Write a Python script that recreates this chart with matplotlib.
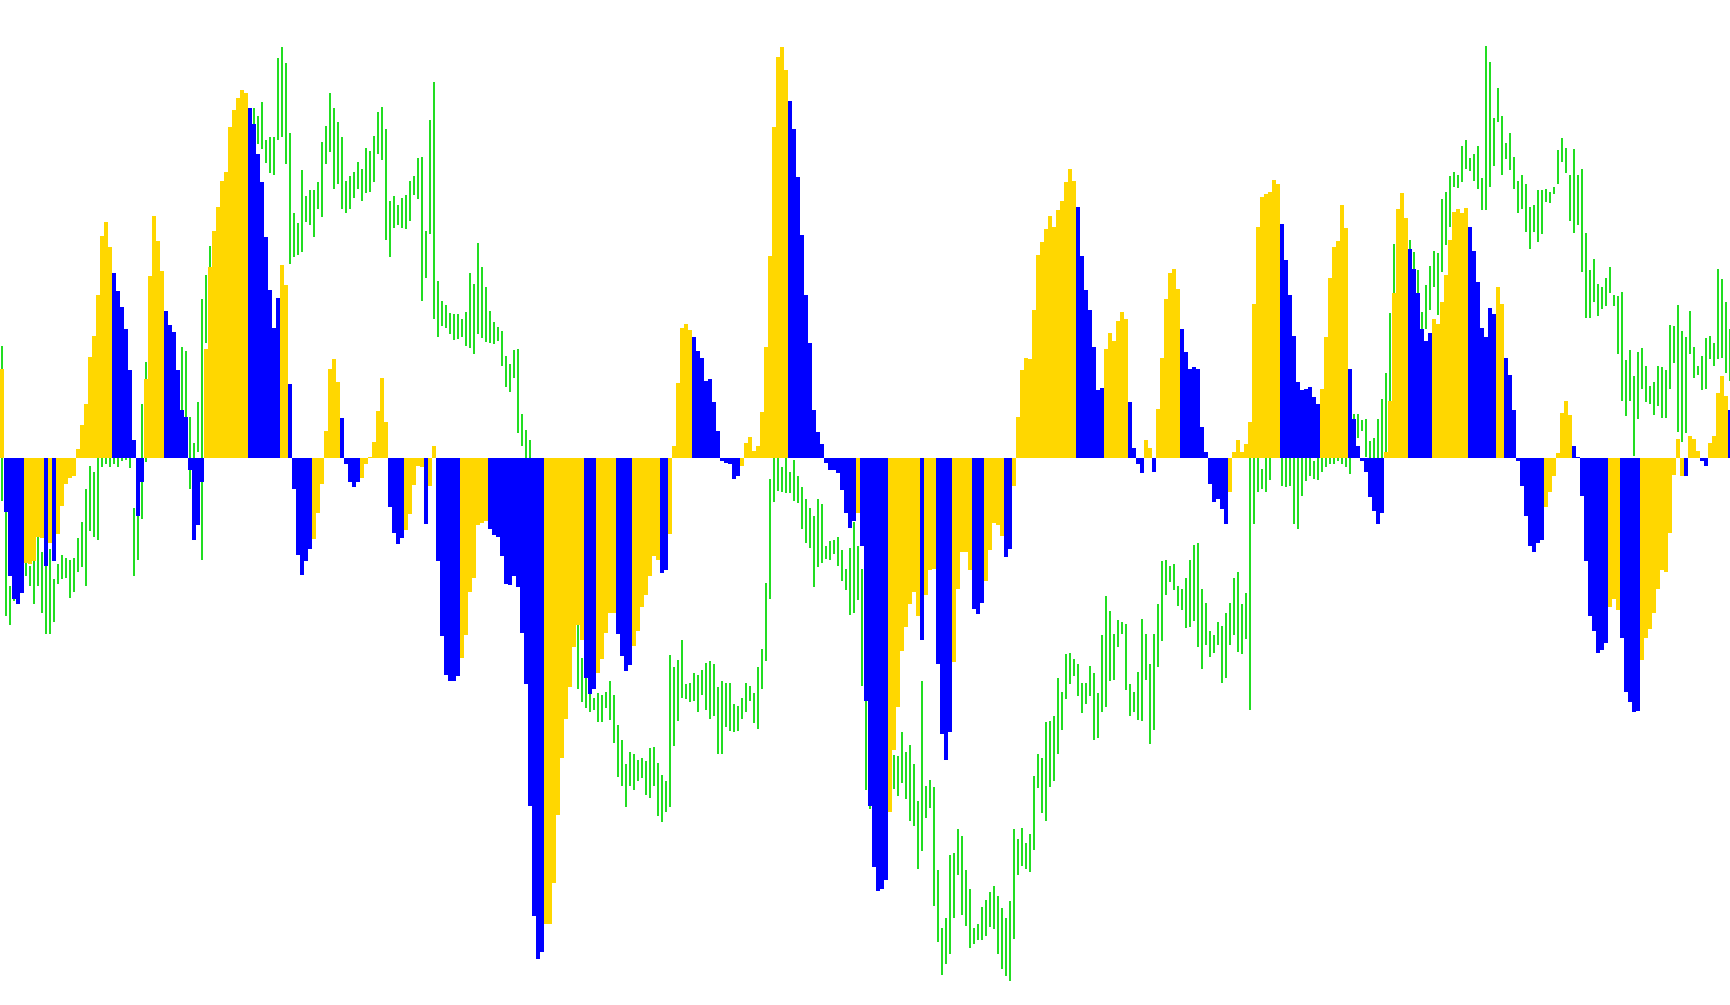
import numpy as np
import matplotlib
matplotlib.use("Agg")
import matplotlib.pyplot as plt

# Oscillator histogram values (arbitrary units, zero line = 0)
osc = [
    147, -88, -195, -232, -240, -222, -172, -175, -170, -130,
    -132, -178, -140, -170, -125, -78, -42, -32, -30, 15,
    55, 89, 167, 202, 270, 366, 389, 348, 306, 276,
    249, 214, 146, 30, -95, -40, 130, 300, 400, 358,
    309, 243, 220, 208, 146, 80, 68, -20, -135, -110,
    -40, 180, 315, 375, 414, 458, 472, 546, 575, 595,
    608, 602, 578, 552, 502, 456, 365, 278, 215, 264,
    319, 285, 123, -50, -160, -193, -170, -150, -134, -90,
    -42, 45, 147, 164, 125, 66, -9, -40, -48, -39,
    -33, -10, 2, 27, 78, 132, 60, -81, -124, -141,
    -132, -118, -92, -44, -12, -15, -108, -45, 20, -170,
    -294, -358, -368, -367, -360, -330, -292, -220, -198, -110,
    -106, -104, -116, -127, -130, -162, -207, -209, -195, -212,
    -288, -372, -573, -755, -826, -815, -769, -769, -700, -588,
    -494, -430, -378, -312, -275, -300, -362, -389, -381, -355,
    -332, -289, -256, -256, -290, -326, -351, -341, -310, -285,
    -245, -225, -194, -162, -168, -190, -185, -125, 20, 124,
    215, 222, 212, 200, 177, 165, 128, 131, 92, 45,
    -5, -8, -10, -35, -30, -12, 25, 35, 12, 20,
    77, 183, 334, 546, 662, 678, 640, 589, 543, 464,
    368, 270, 190, 80, 44, 24, -8, -19, -20, -24,
    -52, -90, -115, -104, -90, -145, -400, -574, -675, -714,
    -710, -695, -584, -482, -411, -318, -278, -240, -220, -260,
    -300, -225, -184, -183, -340, -455, -498, -452, -336, -216,
    -154, -154, -185, -248, -257, -239, -203, -151, -106, -110,
    -129, -163, -150, -46, 68, 146, 165, 164, 244, 335,
    357, 378, 400, 382, 410, 424, 456, 477, 458, 415,
    334, 277, 244, 184, 112, 116, 180, 206, 194, 226,
    241, 230, 92, 17, -10, -25, 30, 17, -22, 81,
    166, 263, 306, 313, 280, 214, 176, 148, 150, 148,
    52, 10, -42, -72, -68, -83, -108, -56, 11, 30,
    10, 23, 60, 254, 381, 431, 436, 440, 459, 452,
    387, 327, 269, 201, 126, 112, 114, 118, 101, 90,
    115, 200, 298, 348, 358, 417, 380, 148, 64, 20,
    -5, -22, -64, -87, -108, -90, 10, 94, 272, 412,
    437, 396, 346, 313, 272, 213, 194, 207, 230, 222,
    258, 303, 360, 406, 411, 404, 413, 382, 342, 290,
    215, 200, 248, 238, 283, 254, 165, 138, 80, -4,
    -46, -95, -144, -155, -139, -135, -80, -55, -30, 8,
    74, 94, 71, 20, 2, -62, -169, -260, -285, -322,
    -316, -305, -246, -232, -250, -297, -386, -402, -418, -417,
    -333, -297, -281, -256, -216, -185, -188, -123, -28, 32,
    -30, -30, 36, 32, 12, -4, -12, 25, 36, 108,
    136, 102, 79,
]

# Histogram state per bar: Y = up (yellow), B = down (blue)
trend = (
    "YBBBBBYYYY" "YBYBYYYYYY" "YYYYYYYYBB" "BBBBBBYYYY" "YBBBBBBBBB"
    "BYYYYYYYYY" "YYBBBBBBBB" "YYBBBBBBYY" "YYYYYBBBBB" "YYYYYYYBBB"
    "BYYYYYBYYB" "BBBBBYYYYY" "YYBBBBBBBB" "BBBBBBYYYY" "YYYYYYBBBY"
    "YYYYBBBBYY" "YYYYYBBYYY" "YYYBBBBBBB" "BBBBBYYYYY" "YYYYYYYBBB"
    "BBBBBBBBBB" "BBBBYBBBBB" "BBYYYYYYYY" "BYYYBBBBYY" "YYYBBBYYYY"
    "YBBYYYYYYY" "YYYYYYYYYB" "BBBBBBYYYY" "YYBBBBYYBY" "YYYYYBBBBB"
    "BBBBBBBYYY" "YYYYYYYYYY" "BBBBBBBBBB" "YYYYYYYBBB" "BBBBBBYYYY"
    "YYBBBBBBYY" "YYYYYYYBBB" "BBBBYYBBBB" "BBBBBBYYYY" "YYYBBBBBBB"
    "BBYYYBBBBB" "YYYYYYYYYY" "YBYYYBBYYY" "YYB"
)

# Price bars (high / low), arbitrary price units
price_high = [
    1495, 1240, 1100, 1120, 1120, 1130, 1145, 1132, 1150, 1182,
    1155, 1160, 1160, 1110, 1135, 1150, 1145, 1142, 1145, 1178,
    1205, 1260, 1297, 1287, 1320, 1350, 1340, 1330, 1330, 1340,
    1330, 1325, 1330, 1228, 1237, 1400, 1469, 1460, 1440, 1460,
    1440, 1440, 1455, 1440, 1445, 1493, 1487, 1378, 1335, 1403,
    1573, 1613, 1660, 1670, 1680, 1700, 1730, 1750, 1780, 1800,
    1820, 1850, 1870, 1888, 1875, 1898, 1835, 1840, 1840, 1970,
    1988, 1962, 1847, 1715, 1698, 1785, 1742, 1752, 1752, 1765,
    1832, 1858, 1912, 1888, 1865, 1840, 1768, 1775, 1782, 1798,
    1787, 1822, 1817, 1842, 1882, 1890, 1853, 1735, 1742, 1728,
    1740, 1745, 1767, 1775, 1805, 1807, 1685, 1868,
    1930, 1602, 1570, 1563, 1550, 1548, 1548, 1540, 1552, 1615,
    1597, 1665, 1625, 1592, 1553, 1535, 1527, 1520, 1478, 1465,
    1488, 1490, 1383, 1357, 1340, 1310, 1295, 1270, 1260, 1225,
    1210, 1165, 1145, 1115, 1105, 1095, 1045, 980, 955, 930,
    915, 922, 920, 925, 943, 920, 870, 845, 805, 825,
    822, 812, 815, 810,
    832, 833, 807, 787, 778, 985, 965, 977, 1010, 938,
    940, 955, 952, 960, 972, 975, 970, 932, 942, 940,
    940, 905, 902, 915, 940, 935, 922, 965, 995, 1105,
    1275, 1340, 1320, 1295, 1315, 1288, 1307, 1280, 1262, 1243,
    1228, 1214, 1242, 1235, 1165, 1173, 1175, 1180, 1158, 1128,
    1162, 1205, 1165, 1128,
    955, 835, 800, 790, 800, 810, 805, 820, 818, 858,
    825, 837, 805, 745, 942, 770, 780, 768, 630, 535,
    552, 655, 658, 698, 687, 630, 600, 535, 542, 570,
    582, 595, 605, 588, 568, 552, 580, 698, 682, 700,
    675, 690, 785, 822, 815, 875, 877, 885, 947, 925,
    987, 988, 978, 970,
    940, 940, 967, 955, 922, 1018, 1082, 1058, 1020, 1043,
    1040, 1037, 938, 925, 957, 1045, 1020, 970, 1020, 1070,
    1140, 1142, 1132, 1135, 1100, 1095, 1112, 1142, 1167, 1170,
    1095, 1072, 1025, 1018, 1040, 1033, 1055, 1072, 1112, 1122,
    1070, 1088, 1320, 1340, 1350, 1292, 1340, 1332, 1360, 1370,
    1350, 1345, 1350, 1340,
    1330, 1330, 1310, 1320, 1305, 1310, 1330, 1340, 1345, 1350,
    1360, 1355, 1340, 1330, 1383, 1383, 1373, 1375, 1338, 1343,
    1374, 1407, 1450, 1550, 1663, 1700, 1710, 1690, 1670, 1650,
    1620, 1552, 1596, 1627, 1652, 1648, 1737, 1750, 1775, 1782,
    1778, 1825, 1835, 1805, 1812, 1825, 1772, 1990, 1963, 1872,
    1920, 1875, 1830, 1847,
    1807, 1768, 1778, 1762, 1725, 1728, 1752, 1752, 1755, 1750,
    1758, 1818, 1838, 1822, 1778, 1820, 1778, 1787, 1682, 1620,
    1638, 1597, 1592, 1608, 1625, 1580, 1577, 1585, 1472, 1488,
    1445, 1485, 1492, 1462, 1430, 1435, 1462, 1460, 1455, 1530,
    1528, 1563, 1520, 1510, 1553, 1493, 1462, 1478, 1508, 1512,
    1500, 1623, 1605, 1567, 1523,
]

price_low = [
    1240, 1050, 1035, 1075, 1080, 1095, 1115, 1100, 1070, 1100,
    1055, 1020, 1020, 1040, 1102, 1110, 1112, 1080, 1090, 1122,
    1130, 1100, 1190, 1180, 1175, 1295, 1300, 1295, 1300, 1295,
    1305, 1307, 1294, 1115, 1142, 1210, 1303, 1360, 1350, 1350,
    1340, 1350, 1360, 1350, 1360, 1360, 1325, 1260, 1280, 1320,
    1142, 1500, 1570, 1580, 1600, 1620, 1650, 1670, 1700, 1730,
    1750, 1770, 1800, 1825, 1828, 1820, 1797, 1780, 1777, 1835,
    1840, 1795, 1630, 1642, 1645, 1650, 1700, 1695, 1675, 1722,
    1708, 1795, 1815, 1755, 1762, 1722, 1714, 1722, 1740, 1755,
    1735, 1748, 1750, 1765, 1812, 1802, 1670, 1642, 1690, 1695,
    1690, 1688, 1702, 1744, 1738, 1570, 1608, 1680,
    1540, 1510, 1528, 1525, 1515, 1505, 1506, 1510, 1495, 1492,
    1482, 1515, 1508, 1502, 1500, 1498, 1503, 1462, 1428, 1420,
    1443, 1352, 1330, 1300, 1280, 1250, 1225, 1200, 1175, 1150,
    1115, 1095, 1075, 1050, 1045, 1032, 930, 908, 898, 892,
    895, 875, 875, 898, 878, 840, 784, 770, 734, 770,
    762, 778, 782, 754,
    750, 770, 720, 710, 726, 735, 835, 877, 915, 913,
    908, 910, 892, 920, 894, 880, 884, 822, 822, 866,
    860, 858, 860, 880, 892, 910, 874, 864, 930, 975,
    1078, 1238, 1256, 1255, 1252, 1252, 1240, 1237, 1194, 1170,
    1162, 1098, 1130, 1138, 1143, 1142, 1152, 1132, 1108, 1093,
    1052, 1054, 1076, 934,
    762, 732, 720, 710, 730, 740, 750, 765, 752, 774,
    748, 712, 704, 633, 662, 716, 733, 572, 512, 457,
    476, 492, 552, 622, 557, 539, 502, 509, 516, 516,
    522, 537, 534, 492, 467, 456, 447, 517, 622, 637,
    632, 627, 664, 766, 724, 712, 767, 777, 822, 861,
    912, 937, 950, 917,
    889, 905, 917, 845, 849, 892, 900, 942, 944, 999,
    1020, 927, 884, 892, 879, 877, 944, 839, 862, 965,
    1009, 1085, 1106, 1092, 1066, 1060, 1030, 1032, 1042, 999,
    962, 1002, 982, 989, 1002, 939, 947, 1002, 1019, 990,
    987, 1012, 894, 1202, 1254, 1260, 1254, 1274, 1310, 1310,
    1264, 1263, 1264, 1202,
    1194, 1248, 1272, 1280, 1276, 1274, 1288, 1295, 1300, 1300,
    1305, 1300, 1295, 1284, 1340, 1344, 1355, 1312, 1310, 1310,
    1300, 1300, 1310, 1386, 1538, 1600, 1610, 1590, 1570, 1550,
    1530, 1522, 1524, 1555, 1592, 1547, 1617, 1662, 1692, 1758,
    1756, 1765, 1787, 1784, 1767, 1754, 1720, 1719, 1757, 1792,
    1865, 1777, 1803, 1785,
    1754, 1714, 1722, 1684, 1655, 1684, 1667, 1680, 1733, 1731,
    1746, 1762, 1798, 1780, 1702, 1682, 1695, 1617, 1542, 1542,
    1567, 1544, 1557, 1562, 1583, 1562, 1482, 1404, 1380, 1405,
    1314, 1374, 1424, 1402, 1400, 1382, 1397, 1377, 1376, 1424,
    1467, 1354, 1337, 1352, 1482, 1442, 1447, 1422, 1425, 1473,
    1462, 1474, 1475, 1450, 1437,
]

n = len(osc)
assert len(trend) == n and len(price_high) == n and len(price_low) == n

x = np.arange(n)
UP, DOWN, PRICE = "#FFD700", "#0000FF", "#22DD22"
colors = [UP if t == "Y" else DOWN for t in trend]

fig = plt.figure(figsize=(17.30, 10.05), dpi=100)
fig.patch.set_facecolor("white")

# price axes (drawn underneath)
axp = fig.add_axes([0, 0, 1, 1])
axp.set_xlim(0, n - 0.5)
axp.set_ylim(408, 2066)
axp.vlines(x + 0.5, price_low, price_high, colors=PRICE, linewidth=1.44,
           antialiased=False)
axp.axis("off")

# oscillator axes (drawn on top)
axo = fig.add_axes([0, 0, 1, 1])
axo.patch.set_visible(False)
axo.set_xlim(0, n - 0.5)
axo.set_ylim(-902, 756)
axo.bar(x, osc, width=1.0, align="edge", color=colors, linewidth=0,
        antialiased=False)
axo.axis("off")

fig.savefig("out.png", dpi=100, facecolor="white")
